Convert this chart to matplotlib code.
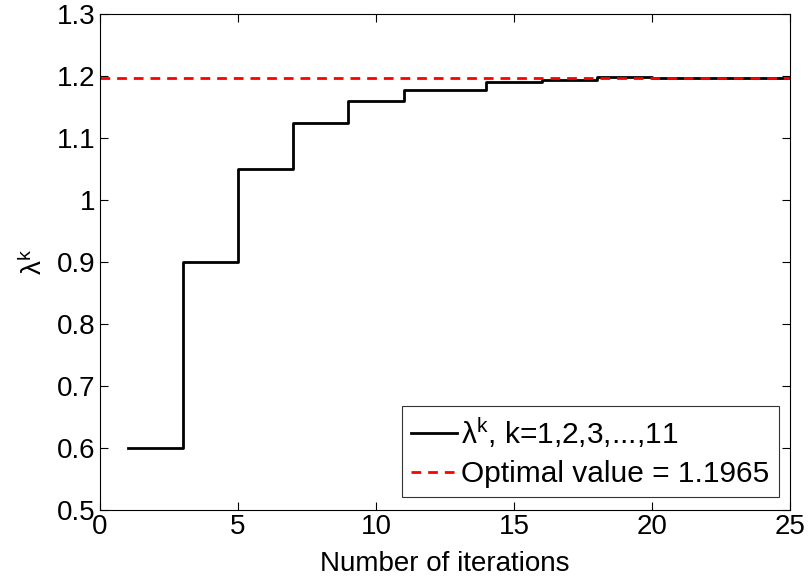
import matplotlib.pyplot as plt

plt.rcParams['font.family'] = ['Liberation Sans', 'DejaVu Sans']
plt.rcParams['mathtext.fontset'] = 'custom'
plt.rcParams['mathtext.rm'] = 'Liberation Sans'
plt.rcParams['mathtext.it'] = 'Liberation Sans'
plt.rcParams['mathtext.default'] = 'regular'

# iteration index where lambda^k changes, and its value
iters = [1, 3, 5, 7, 9, 11, 14, 16, 18, 20, 25]
lam = [0.6, 0.9, 1.05, 1.125, 1.16, 1.178, 1.19, 1.194, 1.198, 1.1965, 1.1965]
optimal = 1.1965


def make_plot():
    fig = plt.figure(figsize=(8.09, 5.85), dpi=100)
    ax = fig.add_axes([100 / 809, 75 / 585, 690 / 809, 496 / 585])

    ax.plot(iters, lam, drawstyle='steps-post', color='black', lw=2,
            label=r'$\lambda^k$, k=1,2,3,...,11')
    ax.plot([0, 25], [optimal, optimal], color='red', lw=2,
            linestyle=(0, (3.5, 2.5)),
            label='Optimal value = %.4f' % optimal)

    ax.set_xlim(0, 25)
    ax.set_ylim(0.5, 1.3)
    ax.set_xticks([0, 5, 10, 15, 20, 25])
    ax.set_yticks([0.5, 0.6, 0.7, 0.8, 0.9, 1.0, 1.1, 1.2, 1.3])
    ax.set_yticklabels(['0.5', '0.6', '0.7', '0.8', '0.9', '1', '1.1', '1.2', '1.3'])
    ax.tick_params(direction='in', top=True, right=True, labelsize=20,
                   length=6, width=0.8)
    ax.tick_params(axis='x', pad=3)
    ax.set_xlabel('Number of iterations', fontsize=20, labelpad=8)
    ax.set_ylabel(r'$\lambda^k$', fontsize=20, labelpad=6)
    for s in ax.spines.values():
        s.set_linewidth(0.8)

    leg = ax.legend(loc='lower right', bbox_to_anchor=(0.9835, 0.026),
                    fontsize=21.5, frameon=True, fancybox=False,
                    handlelength=1.55, handletextpad=0.15, borderpad=0.3,
                    labelspacing=0.35, borderaxespad=0)
    leg.get_frame().set_edgecolor('black')
    leg.get_frame().set_linewidth(0.8)

    fig.savefig('out.png', dpi=100)
    plt.close(fig)


if __name__ == '__main__':
    make_plot()
